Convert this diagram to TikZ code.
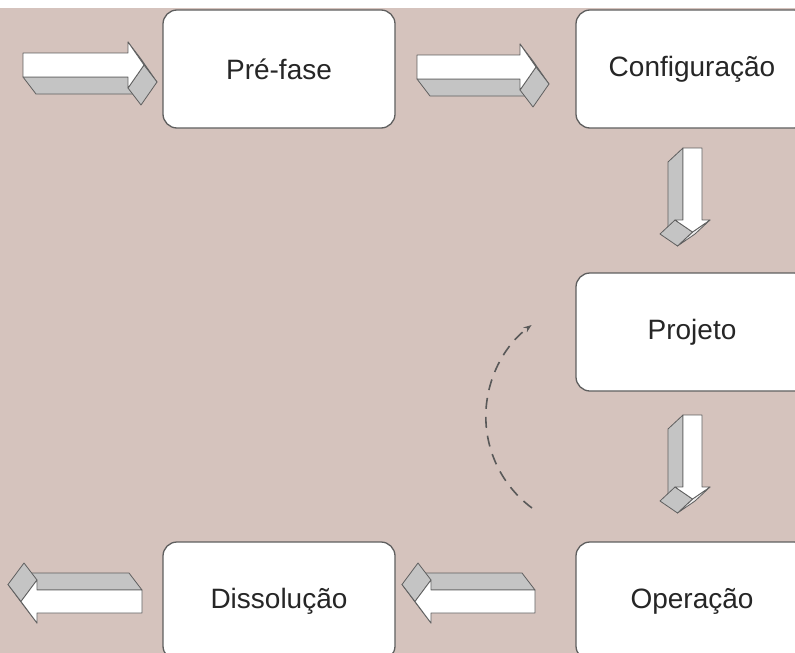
\documentclass[tikz,border=0pt]{standalone}
\usepackage{fontspec}
\setmainfont{Liberation Sans}
\usetikzlibrary{arrows.meta}
\definecolor{backdrop}{RGB}{213,195,189}
\definecolor{edgegray}{RGB}{95,95,95}
\definecolor{sidegray}{RGB}{196,196,196}
\definecolor{lightside}{RGB}{236,236,236}
\tikzset{
  phase/.style={draw=edgegray, line width=1.3pt, fill=white, rounded corners=14pt,
    minimum width=232pt, minimum height=118pt, inner sep=0pt,
    font=\fontsize{28}{32}\selectfont, text=black!85},
  face/.style={draw=edgegray, line width=0.8pt, line join=round},
  loop arrow/.style={draw=black!65, line width=1.6pt, dash pattern=on 11pt off 8pt,
    -{Stealth[length=8pt,width=6pt]}},
}
% 3d block arrow, local frame: #1 shaft length, #2 half width,
% #3 head overhang, #4 head length, #5/#6 depth
\newcommand{\blockarrow}[6]{%
  \filldraw[face, fill=sidegray] (0,2*#2) -- (#1,2*#2) -- ({#1+#5},{2*#2+#6}) -- (#5,{2*#2+#6}) -- cycle;
  \filldraw[face, fill=lightside] (#1,-#3) -- ({#1+#4},#2) -- ({#1+#4+#5},{#2+#6}) -- ({#1+#5},{#6-#3}) -- cycle;
  \filldraw[face, fill=sidegray] ({#1+#4},#2) -- (#1,{2*#2+#3}) -- ({#1+#5},{2*#2+#3+#6}) -- ({#1+#4+#5},{#2+#6}) -- cycle;
  \filldraw[face, fill=white] (0,0) -- (#1,0) -- (#1,-#3) -- ({#1+#4},#2) -- (#1,{2*#2+#3}) -- (#1,2*#2) -- (0,2*#2) -- cycle;
}
\begin{document}
\begin{tikzpicture}[x=1pt, y=-1pt]
  \useasboundingbox (0,0) rectangle (795,653);
  \clip (0,0) rectangle (795,653);
  \fill[white] (0,0) rectangle (795,653);
  \fill[backdrop] (0,8) rectangle (795,653);

  % phases
  \node[phase] (prefase) at (279,69) {Pré-fase};
  \node[phase] (config) at (692,69) {Configuração};
  \node[phase] (projeto) at (692,332) {Projeto};
  \node[phase] (operacao) at (692,601) {Operação};
  \node[phase] (dissolucao) at (279,601) {Dissolução};

  % block arrows
  \begin{scope}[shift={(23pt,-53pt)}]
    \blockarrow{105}{12}{11}{16}{13}{17}
  \end{scope}
  \begin{scope}[shift={(417pt,-55pt)}]
    \blockarrow{103}{12}{11}{16}{13}{17}
  \end{scope}
  \begin{scope}[shift={(702pt,-148pt)}, x={(0pt,-1pt)}, y={(-1pt,0pt)}]
    \blockarrow{72}{9.5}{8}{12}{14}{15}
  \end{scope}
  \begin{scope}[shift={(702pt,-415pt)}, x={(0pt,-1pt)}, y={(-1pt,0pt)}]
    \blockarrow{72}{9.5}{8}{12}{14}{15}
  \end{scope}
  \begin{scope}[shift={(535pt,-613pt)}, x={(-1pt,0pt)}, y={(0pt,1pt)}]
    \blockarrow{104}{11.5}{10}{16}{13}{17}
  \end{scope}
  \begin{scope}[shift={(142pt,-613pt)}, x={(-1pt,0pt)}, y={(0pt,1pt)}]
    \blockarrow{105}{11.5}{10}{16}{13}{17}
  \end{scope}

  % feedback loop
  \coordinate (loopstart) at (532,508);
  \draw[loop arrow] (loopstart) arc[start angle=126.5, end angle=233.2, radius=114];
\end{tikzpicture}
\end{document}
